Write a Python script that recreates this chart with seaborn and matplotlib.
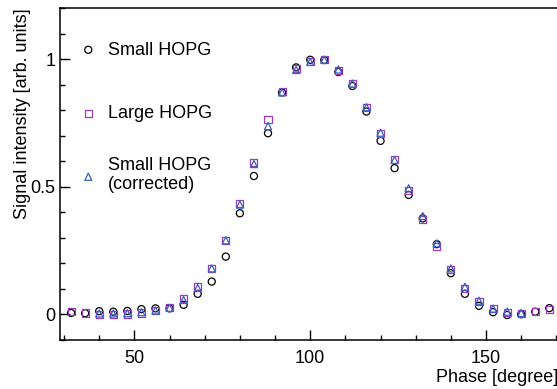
import matplotlib
matplotlib.use('Agg')
import matplotlib.pyplot as plt
import seaborn as sns
import pandas as pd
from matplotlib.ticker import MultipleLocator

# phase points (degree)
phase = list(range(32, 169, 4))
phase_corr = list(range(40, 161, 4))

small_hopg = [0.005, 0.004, 0.012, 0.010, 0.013, 0.020, 0.023, 0.023, 0.037, 0.080,
              0.128, 0.226, 0.396, 0.542, 0.710, 0.870, 0.968, 0.998, 0.997, 0.950,
              0.895, 0.795, 0.680, 0.573, 0.468, 0.376, 0.275, 0.161, 0.080, 0.033,
              0.008, -0.003, 0.000, 0.010, 0.024]
large_hopg = [0.010, 0.005, 0.000, -0.001, 0.001, 0.005, 0.013, 0.025, 0.060, 0.108,
              0.180, 0.291, 0.433, 0.595, 0.765, 0.872, 0.965, 0.990, 1.000, 0.955,
              0.906, 0.810, 0.710, 0.608, 0.487, 0.370, 0.265, 0.174, 0.102, 0.050,
              0.024, 0.008, 0.004, 0.010, 0.017]
small_corr = [0.003, 0.003, 0.004, 0.008, 0.015, 0.025, 0.056, 0.103, 0.180, 0.290,
              0.430, 0.589, 0.738, 0.870, 0.958, 0.990, 0.998, 0.960, 0.905, 0.812,
              0.712, 0.605, 0.494, 0.385, 0.278, 0.180, 0.108, 0.053, 0.022, 0.010,
              0.005]

labels = ['Small HOPG', 'Large HOPG', 'Small HOPG\n(corrected)']
colors = ['black', '#9c3cbc', '#3560c4']
markers = ['o', 's', '^']


def configure_plots():
    """ROOT-like look: black frame, inward ticks, Arial-like font"""
    sns.set_style('ticks')
    plt.rcParams['font.family'] = ['Liberation Sans', 'DejaVu Sans']
    plt.rcParams['font.size'] = 13
    for key in ['axes.edgecolor', 'axes.labelcolor', 'text.color',
                'xtick.color', 'ytick.color']:
        plt.rcParams[key] = 'black'


configure_plots()

series = [
    pd.DataFrame({'phase': phase, 'signal': small_hopg}),
    pd.DataFrame({'phase': phase, 'signal': large_hopg}),
    pd.DataFrame({'phase': phase_corr, 'signal': small_corr}),
]

fig = plt.figure(figsize=(5.57, 3.89), dpi=100)
ax = fig.add_axes([60 / 557, 49 / 389, 497 / 557 + 0.002, 332 / 389])

for df, lab, col, mk in zip(series, labels, colors, markers):
    sns.scatterplot(data=df, x='phase', y='signal', ax=ax, marker=mk,
                    facecolors='none', edgecolor=col, linewidth=0.9,
                    s=26, label=lab, legend=False)

ax.set_xlim(28.85, 170.5)
ax.set_ylim(-0.101, 1.201)
ax.xaxis.set_major_locator(MultipleLocator(50))
ax.xaxis.set_minor_locator(MultipleLocator(10))
ax.yaxis.set_major_locator(MultipleLocator(0.5))
ax.yaxis.set_minor_locator(MultipleLocator(0.1))
ax.yaxis.set_major_formatter(plt.FuncFormatter(lambda v, p: f'{v:g}'))

ax.tick_params(which='both', direction='in', top=False, right=False, width=1)
ax.tick_params(which='major', length=7.2)
ax.tick_params(which='minor', length=3.6)
ax.tick_params(axis='x', pad=7, labelsize=13)
ax.tick_params(axis='y', pad=3.5, labelsize=13)

for side in ['left', 'bottom', 'top']:
    ax.spines[side].set_linewidth(1.1)
ax.spines['right'].set_visible(False)

ax.set_xlabel('Phase [degree]', loc='right', fontsize=13)
ax.xaxis.set_label_coords(1.0, -0.088)
ax.set_ylabel('Signal intensity [arb. units]', loc='top', fontsize=13)
ax.yaxis.set_label_coords(-0.058, 1.0)

handles = ax.collections
common = dict(frameon=False, fontsize=13, handletextpad=0.6,
              borderaxespad=0.0, handlelength=1.0, borderpad=0.9)
leg1 = ax.legend(handles[:2], labels[:2], loc='upper left',
                 bbox_to_anchor=(0.006, 0.948), labelspacing=2.59, **common)
ax.add_artist(leg1)
ax.legend(handles[2:], labels[2:], loc='center left',
          bbox_to_anchor=(0.006, 0.497), **common)

fig.savefig('out.png', dpi=100)
plt.close()
